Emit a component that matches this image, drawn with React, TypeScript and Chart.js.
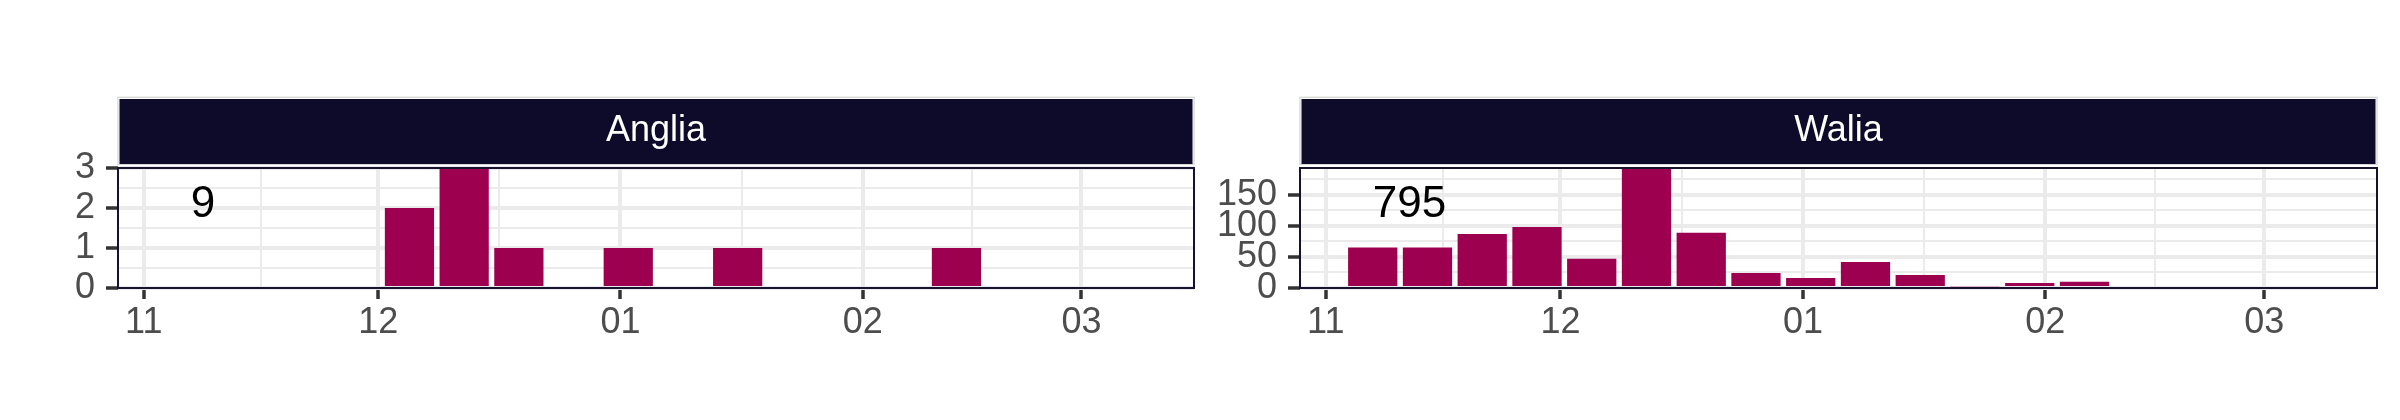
import React, { useEffect, useRef } from "react";
import { Chart, registerables } from "chart.js";

Chart.register(...registerables);

// ---------- data ----------
const weekCenters = [
  "2020-11-07", "2020-11-14", "2020-11-21", "2020-11-28",
  "2020-12-05", "2020-12-12", "2020-12-19", "2020-12-26",
  "2021-01-02", "2021-01-09", "2021-01-16", "2021-01-23",
  "2021-01-30", "2021-02-06", "2021-02-13",
];
const angliaCounts = [0, 0, 0, 0, 2, 3, 1, 0, 1, 0, 1, 0, 0, 0, 1];
const waliaCounts = [65, 65, 87, 98, 47, 193, 89, 24, 16, 42, 21, 3, 8, 10, 0];

const panelNames = ["Anglia", "Walia"];
const panelTotals = ["9", "795"];

const angliaYTicks = [0, 1, 2, 3];
const waliaYTicks = [0, 50, 100, 150];

const monthTickDates = ["2020-11-01", "2020-12-01", "2021-01-01", "2021-02-01", "2021-03-01"];
const monthTickLabels = ["11", "12", "01", "02", "03"];

const originDate = "2020-11-01";
const xDomainDays = [-3.3, 134.4];
const totalLabelDate = "2020-11-07";
const totalLabelFrac = 0.593;

// ---------- helpers ----------
const FONT = "'Liberation Sans', Arial, Helvetica, sans-serif";
const BAR = "#9E0050";
const STRIP = "#0E0A2A";
const GRID = "#EBEBEB";

function dayNum(s: string): number {
  const [y, m, d] = s.split("-").map(Number);
  const [oy, om, od] = originDate.split("-").map(Number);
  return (Date.UTC(y, m - 1, d) - Date.UTC(oy, om - 1, od)) / 86400000;
}

function buildXTicks() {
  const majors = monthTickDates.map((d, i) => ({ value: dayNum(d), label: monthTickLabels[i], minor: false }));
  const all: any[] = [];
  majors.forEach((t, i) => {
    all.push(t);
    if (i < majors.length - 1) {
      all.push({ value: (t.value + majors[i + 1].value) / 2, label: "", minor: true });
    }
  });
  return all.filter((t) => t.value >= xDomainDays[0] && t.value <= xDomainDays[1]);
}

function buildYTicks(majors: number[], max: number) {
  const step = majors[1] - majors[0];
  const all: any[] = [];
  majors.forEach((v) => {
    all.push({ value: v, label: String(v), minor: false });
    if (v + step / 2 < max) all.push({ value: v + step / 2, label: "", minor: true });
  });
  return all.sort((a, b) => a.value - b.value);
}

const decorPlugin = {
  id: "panelDecor",
  afterDatasetsDraw(chart: any, _args: any, opts: any) {
    const { ctx, scales } = chart;
    const x = scales.x.getPixelForValue(dayNum(totalLabelDate));
    const y = scales.y.getPixelForValue(scales.y.max * totalLabelFrac);
    ctx.save();
    ctx.font = `44px ${FONT}`;
    ctx.fillStyle = "#000000";
    ctx.textAlign = "left";
    ctx.textBaseline = "alphabetic";
    ctx.fillText(opts.total, x, y);
    ctx.restore();
  },
  afterDraw(chart: any, _args: any, opts: any) {
    const { ctx, chartArea } = chart;
    const { left, right, top, bottom } = chartArea;
    const w = right - left;
    ctx.save();
    // strip
    ctx.strokeStyle = "#D6D6D6";
    ctx.lineWidth = 1.3;
    ctx.strokeRect(left, 97.3, w, 67);
    ctx.fillStyle = STRIP;
    ctx.fillRect(left + 1.5, 99, w - 3, 65);
    ctx.fillStyle = "#FFFFFF";
    ctx.font = `36px ${FONT}`;
    ctx.textAlign = "center";
    ctx.textBaseline = "middle";
    ctx.fillText(opts.title, (left + right) / 2, 131.5);
    // panel border
    ctx.strokeStyle = "#17122F";
    ctx.lineWidth = 2;
    ctx.strokeRect(left, top, w, bottom - top);
    ctx.restore();
  },
};

function makeConfig(idx: number, counts: number[], yMajors: number[], yAxisWidth: number, padRight: number): any {
  const yMax = Math.max(...counts);
  const xTicks = buildXTicks();
  const yTicks = buildYTicks(yMajors, yMax);
  const tickFont = { family: FONT, size: 36 };
  return {
    type: "bar",
    data: {
      datasets: [
        {
          data: weekCenters.map((d, i) => ({ x: dayNum(d), y: counts[i] })),
          backgroundColor: BAR,
          borderWidth: 0,
          barPercentage: 0.9,
          categoryPercentage: 1.0,
        },
      ],
    },
    options: {
      animation: false,
      responsive: false,
      devicePixelRatio: 1,
      layout: { padding: { left: 0, right: padRight, top: 168, bottom: 72 } },
      plugins: {
        legend: { display: false },
        tooltip: { enabled: false },
        panelDecor: { title: panelNames[idx], total: panelTotals[idx] },
      },
      scales: {
        x: {
          type: "linear",
          min: xDomainDays[0],
          max: xDomainDays[1],
          offset: false,
          afterBuildTicks: (s: any) => {
            s.ticks = xTicks.map((t) => ({ ...t }));
          },
          afterFit: (s: any) => {
            s.height = 60;
          },
          ticks: {
            autoSkip: false,
            maxRotation: 0,
            minRotation: 0,
            padding: 2,
            color: "#4D4D4D",
            font: tickFont,
            callback: (_v: any, i: number, ticks: any[]) => (ticks[i].minor ? "" : ticks[i].label),
          },
          grid: {
            offset: false,
            drawOnChartArea: true,
            drawTicks: true,
            tickLength: 11,
            color: GRID,
            lineWidth: (c: any) => (c.tick && c.tick.minor ? 2 : 4),
            tickColor: (c: any) => (c.tick && c.tick.minor ? "rgba(0,0,0,0)" : "#333333"),
            tickWidth: 3.5,
          },
          border: { display: false },
        },
        y: {
          type: "linear",
          min: 0,
          max: yMax,
          afterBuildTicks: (s: any) => {
            s.ticks = yTicks.map((t) => ({ ...t }));
          },
          afterFit: (s: any) => {
            s.width = yAxisWidth;
          },
          ticks: {
            autoSkip: false,
            padding: 11,
            color: "#4D4D4D",
            font: tickFont,
            callback: (_v: any, i: number, ticks: any[]) => (ticks[i].minor ? "" : ticks[i].label),
          },
          grid: {
            drawOnChartArea: true,
            drawTicks: true,
            tickLength: 12,
            color: GRID,
            lineWidth: (c: any) => (c.tick && c.tick.minor ? 2 : 4),
            tickColor: (c: any) => (c.tick && c.tick.minor ? "rgba(0,0,0,0)" : "#333333"),
            tickWidth: 3.5,
          },
          border: { display: false },
        },
      },
    },
    plugins: [decorPlugin],
  };
}

function Panel(props: { idx: number; counts: number[]; yMajors: number[]; left: number; yAxisWidth: number; padRight: number }) {
  const ref = useRef<HTMLCanvasElement | null>(null);
  useEffect(() => {
    if (!ref.current) return;
    const chart = new Chart(ref.current, makeConfig(props.idx, props.counts, props.yMajors, props.yAxisWidth, props.padRight));
    return () => chart.destroy();
  }, []);
  return (
    <canvas
      ref={ref}
      width={1200}
      height={420}
      style={{ position: "absolute", left: props.left, top: 0, width: 1200, height: 420, display: "block" }}
    />
  );
}

export default function App() {
  return (
    <div style={{ position: "absolute", left: 0, top: 0, width: 2400, height: 420, background: "#FFFFFF", overflow: "hidden" }}>
      <Panel idx={0} counts={angliaCounts} yMajors={angliaYTicks} left={0} yAxisWidth={118} padRight={6} />
      <Panel idx={1} counts={waliaCounts} yMajors={waliaYTicks} left={1200} yAxisWidth={100} padRight={23} />
    </div>
  );
}
